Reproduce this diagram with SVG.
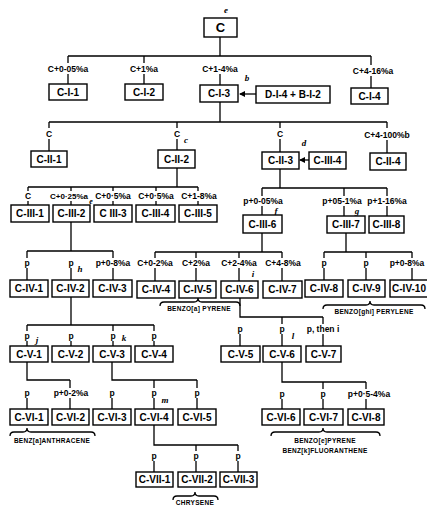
<svg xmlns="http://www.w3.org/2000/svg" width="427" height="506" viewBox="0 0 427 506">
<defs>
<marker id="ah" markerWidth="6" markerHeight="6" refX="5" refY="3" orient="auto" markerUnits="userSpaceOnUse"><path d="M0,0 L6,3 L0,6 Z" fill="#000"/></marker>
<style>
rect{fill:#fff;stroke:#000;stroke-width:1.4}
.bt{font-family:"Liberation Sans",Arial,sans-serif;font-weight:bold;font-size:10px;text-anchor:middle;fill:#000}
.lb{font-family:"Liberation Sans",Arial,sans-serif;font-weight:bold;font-size:8.5px;text-anchor:middle;fill:#000}
.it{font-family:"Liberation Serif",serif;font-style:italic;font-weight:bold;font-size:9px;text-anchor:middle;fill:#000}
.nm{font-family:"Liberation Sans",Arial,sans-serif;font-weight:bold;font-size:6.5px;text-anchor:middle;fill:#000;letter-spacing:0.3px}
.ln{fill:none;stroke:#000;stroke-width:1.3}
</style>
</defs>
<rect x="0" y="0" width="427" height="506" style="fill:#fff;stroke:none"/>
<g id="connectors" class="ln">
<path d="M220,37V56M68,56H371M68,56V63M68,74V84M144,56V63M144,74V84M220,74V85M371,56V65M371,76V88"/>
<path d="M256,94H240" marker-end="url(#ah)"/>
<path d="M220,102V122M49,122H387M49,122V128M49,139V151M177,122V128M177,139V150M280,122V128M280,139V152M387,122V128M387,140V153"/>
<path d="M309,160H300" marker-end="url(#ah)"/>
<path d="M177,168V187M28,187H198M28,187V191M28,201V205M71,187V191M71,201V205M113,187V191M113,201V205M156,187V191M156,201V205M198,187V191M198,201V205"/>
<path d="M280,169V188M262,188H387M262,188V196M262,206V215M344,188V196M344,206V216M387,188V196M387,206V216"/>
<path d="M71,222V251M27,251H113M27,251V258M27,268V280M71,268V280M113,251V258M113,268V280"/>
<path d="M262,233V252M155,252H282M155,252V258M155,268V281M196,252V258M196,268V281M239,252V258M239,268V281M282,252V258M282,268V281"/>
<path d="M346,233V252M324,252H412M324,252V258M324,268V280M366,252V258M366,268V280M412,252V258M412,268V280"/>
<path d="M71,297V325M27,325H154M27,325V331M27,341V346M71,341V346M113,325V331M113,341V346M154,325V331M154,341V346"/>
<path d="M240,298V317H323M240,334V346M282,317V324M282,334V346M323,317V324M323,334V346"/>
<path d="M27,362V380H70M27,398V409M70,380V388M70,398V409"/>
<path d="M112,362V380H197M112,398V409M154,380V388M154,398V409M197,380V388M197,398V409"/>
<path d="M282,362V382H366M282,399V409M323,382V389M323,399V409M366,382V389M366,399V409"/>
<path d="M154,425V445H238M154,461V472M196,445V451M196,461V472M238,445V451M238,461V472"/>
<path d="M160,306Q160,302 164,302H194Q198,302 198,298Q198,302 202,302H236Q240,302 240,306"/>
<path d="M323,309Q323,305 327,305H366Q370,305 370,301Q370,305 374,305H421Q425,305 425,309"/>
<path d="M10,436Q10,432 14,432H23Q27,432 27,428Q27,432 31,432H91Q95,432 95,436"/>
<path d="M271,436Q271,432 275,432H319Q323,432 323,428Q323,432 327,432H376Q380,432 380,436"/>
<path d="M173,500Q173,496 177,496H191Q195,496 195,492Q195,496 199,496H214Q218,496 218,500"/>
</g>
<g id="labels">
<text class="lb" x="68" y="72">C+0-05%a</text>
<text class="lb" x="144" y="72">C+1%a</text>
<text class="lb" x="220" y="72">C+1-4%a</text>
<text class="lb" x="373" y="74">C+4-16%a</text>
<text class="lb" x="49" y="137">C</text>
<text class="lb" x="177" y="137">C</text>
<text class="lb" x="280" y="137">C</text>
<text class="lb" x="387" y="138">C+4-100%b</text>
<text class="lb" x="28" y="199">C</text>
<text class="lb" x="69" y="199" style="font-size:8px">C+0·25%a</text>
<text class="lb" x="113" y="199">C+0·5%a</text>
<text class="lb" x="156" y="199">C+0·5%a</text>
<text class="lb" x="199" y="199">C+1-8%a</text>
<text class="lb" x="263" y="204">p+0-05%a</text>
<text class="lb" x="342" y="204">p+05-1%a</text>
<text class="lb" x="387" y="204">p+1-16%a</text>
<text class="lb" x="27" y="266">p</text>
<text class="lb" x="71" y="266">p</text>
<text class="lb" x="113" y="266">p+0-8%a</text>
<text class="lb" x="155" y="266">C+0-2%a</text>
<text class="lb" x="196" y="266">C+2%a</text>
<text class="lb" x="239" y="266">C+2-4%a</text>
<text class="lb" x="283" y="266">C+4-8%a</text>
<text class="lb" x="324" y="266">p</text>
<text class="lb" x="366" y="266">p</text>
<text class="lb" x="407" y="266">p+0-8%a</text>
<text class="lb" x="27" y="339">p</text>
<text class="lb" x="71" y="339">p</text>
<text class="lb" x="113" y="339">p</text>
<text class="lb" x="154" y="339">p</text>
<text class="lb" x="240" y="332">p</text>
<text class="lb" x="282" y="332">p</text>
<text class="lb" x="323" y="332">p, then i</text>
<text class="lb" x="27" y="396">p</text>
<text class="lb" x="71" y="396">p+0-2%a</text>
<text class="lb" x="112" y="396">p</text>
<text class="lb" x="154" y="396">p</text>
<text class="lb" x="197" y="396">p</text>
<text class="lb" x="282" y="397">p</text>
<text class="lb" x="323" y="397">p</text>
<text class="lb" x="369" y="397">p+0·5-4%a</text>
<text class="lb" x="154" y="459">p</text>
<text class="lb" x="196" y="459">p</text>
<text class="lb" x="238" y="459">p</text>
<text class="it" x="226" y="13">e</text>
<text class="it" x="247" y="81">b</text>
<text class="it" x="186" y="143">c</text>
<text class="it" x="304" y="146">d</text>
<text class="it" x="91" y="204" style="font-size:8px">e</text>
<text class="it" x="276" y="214">f</text>
<text class="it" x="357" y="214">g</text>
<text class="it" x="80" y="272">h</text>
<text class="it" x="253" y="277">i</text>
<text class="it" x="37" y="343">j</text>
<text class="it" x="124" y="341">k</text>
<text class="it" x="293" y="339">l</text>
<text class="it" x="165" y="403">m</text>
<text class="nm" x="199" y="311">BENZO[a] PYRENE</text>
<text class="nm" x="374" y="314">BENZO[ghi] PERYLENE</text>
<text class="nm" x="52" y="443">BENZ[a]ANTHRACENE</text>
<text class="nm" x="325" y="443">BENZO[e]PYRENE</text>
<text class="nm" x="325" y="453">BENZ[k]FLUORANTHENE</text>
<text class="nm" x="195" y="505">CHRYSENE</text>
</g>
<g id="n_C"><rect x="204" y="18" width="33" height="19"/><text class="bt" x="220.5" y="32" style="font-size:13px">C</text></g>
<g id="n_CI1"><rect x="49" y="84" width="38" height="16"/><text class="bt" x="68" y="95.5">C-I-1</text></g>
<g id="n_CI2"><rect x="125" y="84" width="38" height="16"/><text class="bt" x="144" y="95.5">C-I-2</text></g>
<g id="n_CI3"><rect x="200" y="85" width="38" height="17"/><text class="bt" x="219" y="97">C-I-3</text></g>
<g id="n_DI4"><rect x="256" y="86" width="74" height="17"/><text class="bt" x="293" y="98">D-I-4 + B-I-2</text></g>
<g id="n_CI4"><rect x="351" y="88" width="37" height="16"/><text class="bt" x="369.5" y="99.5">C-I-4</text></g>
<g id="n_CII1"><rect x="31" y="151" width="36" height="16"/><text class="bt" x="49" y="162.5">C-II-1</text></g>
<g id="n_CII2"><rect x="158" y="150" width="37" height="18"/><text class="bt" x="176.5" y="162.5">C-II-2</text></g>
<g id="n_CII3"><rect x="262" y="152" width="37" height="17"/><text class="bt" x="280.5" y="164">C-II-3</text></g>
<g id="n_CIII4b"><rect x="309" y="152" width="37" height="17"/><text class="bt" x="327.5" y="164">C-III-4</text></g>
<g id="n_CII4"><rect x="370" y="153" width="36" height="17"/><text class="bt" x="388" y="165">C-II-4</text></g>
<g id="n_CIII1"><rect x="11" y="205" width="38" height="17"/><text class="bt" x="30" y="217">C-III-1</text></g>
<g id="n_CIII2"><rect x="53" y="205" width="37" height="17"/><text class="bt" x="71.5" y="217">C-III-2</text></g>
<g id="n_CIII3"><rect x="94" y="205" width="38" height="17"/><text class="bt" x="113" y="217">C III-3</text></g>
<g id="n_CIII4"><rect x="136" y="205" width="39" height="17"/><text class="bt" x="155.5" y="217">C-III-4</text></g>
<g id="n_CIII5"><rect x="179" y="205" width="38" height="17"/><text class="bt" x="198" y="217">C-III-5</text></g>
<g id="n_CIII6"><rect x="243" y="215" width="39" height="18"/><text class="bt" x="262.5" y="227.5">C-III-6</text></g>
<g id="n_CIII7"><rect x="327" y="216" width="38" height="17"/><text class="bt" x="346" y="228">C-III-7</text></g>
<g id="n_CIII8"><rect x="369" y="216" width="35" height="17"/><text class="bt" x="386.5" y="228">C-III-8</text></g>
<g id="n_CIV1"><rect x="10" y="280" width="38" height="17"/><text class="bt" x="29" y="292">C-IV-1</text></g>
<g id="n_CIV2"><rect x="52" y="280" width="37" height="17"/><text class="bt" x="70.5" y="292">C-IV-2</text></g>
<g id="n_CIV3"><rect x="93" y="280" width="39" height="17"/><text class="bt" x="112.5" y="292">C-IV-3</text></g>
<g id="n_CIV4"><rect x="137" y="281" width="38" height="17"/><text class="bt" x="156" y="293">C-IV-4</text></g>
<g id="n_CIV5"><rect x="179" y="281" width="37" height="17"/><text class="bt" x="197.5" y="293">C-IV-5</text></g>
<g id="n_CIV6"><rect x="221" y="281" width="37" height="17"/><text class="bt" x="239.5" y="293">C-IV-6</text></g>
<g id="n_CIV7"><rect x="263" y="281" width="39" height="17"/><text class="bt" x="282.5" y="293">C-IV-7</text></g>
<g id="n_CIV8"><rect x="305" y="280" width="38" height="17"/><text class="bt" x="324" y="292">C-IV-8</text></g>
<g id="n_CIV9"><rect x="348" y="280" width="37" height="17"/><text class="bt" x="366.5" y="292">C-IV-9</text></g>
<g id="n_CIV10"><rect x="390" y="280" width="40" height="17"/><text class="bt" x="409" y="292">C-IV-10</text></g>
<g id="n_CV1"><rect x="10" y="346" width="38" height="16"/><text class="bt" x="29" y="357.5">C-V-1</text></g>
<g id="n_CV2"><rect x="52" y="346" width="37" height="16"/><text class="bt" x="70.5" y="357.5">C-V-2</text></g>
<g id="n_CV3"><rect x="93" y="346" width="38" height="16"/><text class="bt" x="112" y="357.5">C-V-3</text></g>
<g id="n_CV4"><rect x="135" y="346" width="38" height="16"/><text class="bt" x="154" y="357.5">C-V-4</text></g>
<g id="n_CV5"><rect x="221" y="346" width="39" height="16"/><text class="bt" x="240.5" y="357.5">C-V-5</text></g>
<g id="n_CV6"><rect x="263" y="346" width="38" height="16"/><text class="bt" x="282" y="357.5">C-V-6</text></g>
<g id="n_CV7"><rect x="306" y="346" width="35" height="16"/><text class="bt" x="323.5" y="357.5">C-V-7</text></g>
<g id="n_CVI1"><rect x="10" y="409" width="38" height="16"/><text class="bt" x="29" y="420.5">C-VI-1</text></g>
<g id="n_CVI2"><rect x="52" y="409" width="37" height="16"/><text class="bt" x="70.5" y="420.5">C-VI-2</text></g>
<g id="n_CVI3"><rect x="93" y="409" width="38" height="16"/><text class="bt" x="112" y="420.5">C-VI-3</text></g>
<g id="n_CVI4"><rect x="135" y="409" width="38" height="16"/><text class="bt" x="154" y="420.5">C-VI-4</text></g>
<g id="n_CVI5"><rect x="178" y="409" width="38" height="16"/><text class="bt" x="197" y="420.5">C-VI-5</text></g>
<g id="n_CVI6"><rect x="262" y="409" width="38" height="16"/><text class="bt" x="281" y="420.5">C-VI-6</text></g>
<g id="n_CVI7"><rect x="304" y="409" width="39" height="16"/><text class="bt" x="323.5" y="420.5">C-VI-7</text></g>
<g id="n_CVI8"><rect x="348" y="409" width="36" height="16"/><text class="bt" x="366" y="420.5">C-VI-8</text></g>
<g id="n_CVII1"><rect x="136" y="472" width="37" height="15"/><text class="bt" x="154.5" y="483">C-VII-1</text></g>
<g id="n_CVII2"><rect x="178" y="472" width="38" height="15"/><text class="bt" x="197" y="483">C-VII-2</text></g>
<g id="n_CVII3"><rect x="220" y="472" width="37" height="15"/><text class="bt" x="238.5" y="483">C-VII-3</text></g>
</svg>
